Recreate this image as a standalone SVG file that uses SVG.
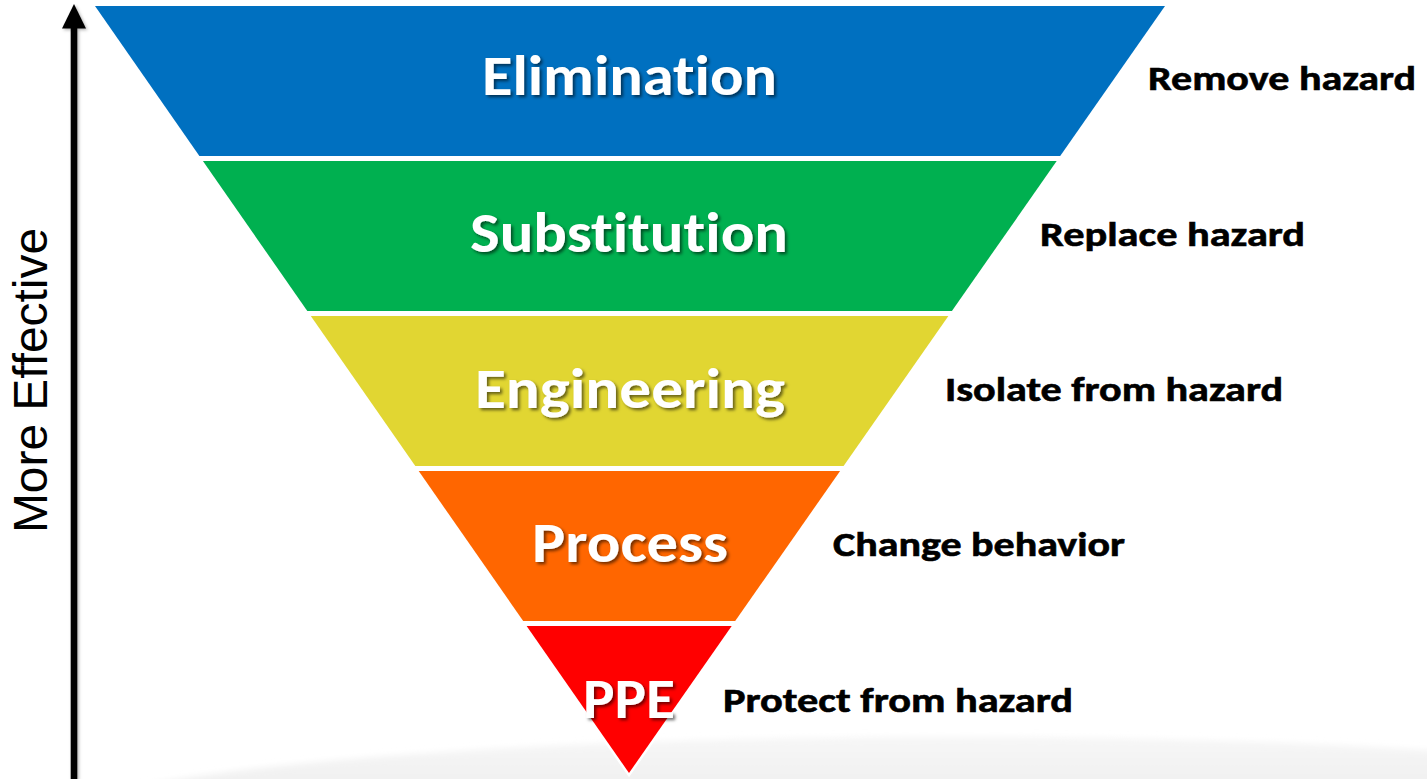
<svg xmlns="http://www.w3.org/2000/svg" width="1427" height="779" viewBox="0 0 1427 779">
  <defs>
    <style>
      .title { font-family: Calibri, Carlito, Lato, "Open Sans", sans-serif; font-weight: 700; font-size: 56px; fill: #ffffff; filter: url(#txtShadow); font-variant-ligatures: none; }
      .label { font-family: Calibri, Carlito, Lato, "Open Sans", sans-serif; font-weight: 700; font-size: 35px; fill: #000000; font-variant-ligatures: none; stroke: #000000; stroke-width: 0.6; }
      .axis-text { font-family: "Liberation Sans", Arial, sans-serif; font-size: 48px; fill: #000000; }
    </style>
    <filter id="txtShadow" x="-10%" y="-20%" width="130%" height="160%">
      <feDropShadow dx="2.2" dy="2.2" stdDeviation="1.6" flood-color="#000000" flood-opacity="0.55"/>
    </filter>
    <filter id="softShadow" x="-50%" y="-5%" width="200%" height="110%">
      <feDropShadow dx="1.5" dy="1.5" stdDeviation="1.5" flood-color="#000000" flood-opacity="0.3"/>
    </filter>
    <filter id="groundBlur" x="-10%" y="-50%" width="120%" height="200%">
      <feGaussianBlur stdDeviation="3"/>
    </filter>
    <linearGradient id="groundFill" x1="0" y1="0" x2="0" y2="1">
      <stop offset="0" stop-color="#f6f6f6"/>
      <stop offset="0.3" stop-color="#f0f0f0"/>
      <stop offset="1" stop-color="#ebebeb"/>
    </linearGradient>
  </defs>

  <rect width="1427" height="779" fill="#ffffff"/>

  <!-- soft floor reflection under the funnel -->
  <ellipse cx="950" cy="824" rx="900" ry="87" fill="url(#groundFill)" filter="url(#groundBlur)"/>

  <!-- white rim around the whole inverted triangle -->
  <polygon points="95,6 1165,6 629,773" fill="#ffffff" stroke="#ffffff" stroke-width="5" stroke-linejoin="miter"/>

  <g id="level-elimination">
    <polygon points="95,6 1165,6 1060.2,156 199.4,156" fill="#0070C0"/>
    <text class="title" x="482" y="95" textLength="295" lengthAdjust="spacingAndGlyphs">Elimination</text>
    <text class="label" x="1148" y="90" textLength="268" lengthAdjust="spacingAndGlyphs">Remove hazard</text>
  </g>

  <g id="level-substitution">
    <polygon points="202.9,161 1056.7,161 951.9,311 307.3,311" fill="#00B050"/>
    <text class="title" x="470" y="252" textLength="318" lengthAdjust="spacingAndGlyphs">Substitution</text>
    <text class="label" x="1040" y="246" textLength="265" lengthAdjust="spacingAndGlyphs">Replace hazard</text>
  </g>

  <g id="level-engineering">
    <polygon points="310.8,316 948.4,316 843.6,466 415.3,466" fill="#E1D632"/>
    <text class="title" x="475" y="408" textLength="310" lengthAdjust="spacingAndGlyphs">Engineering</text>
    <text class="label" x="945" y="401" textLength="338" lengthAdjust="spacingAndGlyphs">Isolate from hazard</text>
  </g>

  <g id="level-process">
    <polygon points="418.7,471 840.1,471 735.2,621 523.2,621" fill="#FF6600"/>
    <text class="title" x="532" y="562" textLength="196" lengthAdjust="spacingAndGlyphs">Process</text>
    <text class="label" x="833" y="556" textLength="292" lengthAdjust="spacingAndGlyphs">Change behavior</text>
  </g>

  <g id="level-ppe">
    <polygon points="526.6,626 731.7,626 629,773" fill="#FF0000"/>
    <text class="title" x="583" y="718" textLength="92" lengthAdjust="spacingAndGlyphs">PPE</text>
    <text class="label" x="723" y="712" textLength="350" lengthAdjust="spacingAndGlyphs">Protect from hazard</text>
  </g>

  <!-- effectiveness axis -->
  <g id="connectors">
    <g id="axis" filter="url(#softShadow)">
      <line x1="74" y1="779" x2="74" y2="26" stroke="#000000" stroke-width="6.6"/>
      <polygon points="62,28.5 86,28.5 74,4" fill="#000000"/>
    </g>
  </g>
  <g id="axis-label">
    <text class="axis-text" transform="translate(46.5,380.5) rotate(-90)" text-anchor="middle" textLength="305" lengthAdjust="spacingAndGlyphs">More Effective</text>
  </g>
</svg>
